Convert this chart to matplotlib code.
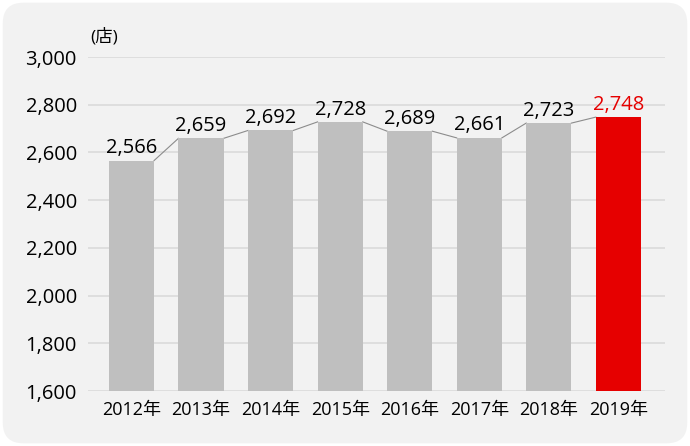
import matplotlib.pyplot as plt
from matplotlib.patches import FancyBboxPatch
import numpy as np

plt.rcParams['font.family'] = ['Open Sans', 'Noto Sans CJK JP', 'DejaVu Sans']

years = ['2012年', '2013年', '2014年', '2015年', '2016年', '2017年', '2018年', '2019年']
stores = [2566, 2659, 2692, 2728, 2689, 2661, 2723, 2748]
yticks = [1600, 1800, 2000, 2200, 2400, 2600, 2800, 3000]

bar_w = 0.65
gray = '#bfbfbf'
red = '#e60000'

fig = plt.figure(figsize=(6.9, 4.46), dpi=100)
fig.patch.set_facecolor('white')

# rounded panel behind everything
panel = FancyBboxPatch((0.004, 0.006), 0.992, 0.988,
                       boxstyle='round,pad=0,rounding_size=0.03',
                       transform=fig.transFigure, facecolor='#f2f2f2',
                       edgecolor='none', zorder=-10, mutation_aspect=690/446)
fig.patches.append(panel)

ax = fig.add_axes([88/690, 1 - 391/446, (665-88)/690, (391-57)/446])
ax.set_facecolor('none')

x = np.arange(len(years))
colors = [gray] * (len(years) - 1) + [red]
ax.bar(x, [v - 1600 for v in stores], bottom=1600, width=bar_w, color=colors, zorder=3)

# thin connectors from bar top to next bar top
for i in range(len(stores) - 1):
    ax.plot([x[i] + bar_w/2, x[i+1] - bar_w/2], [stores[i], stores[i+1]],
            color='#8c8c8c', lw=0.8, zorder=2)

for i, v in enumerate(stores):
    c = red if i == len(stores) - 1 else 'black'
    ax.text(x[i], v + 10, f'{v:,}', ha='center', va='bottom', fontsize=14.5, color=c, zorder=4)

ax.set_ylim(1600, 3000)
ax.set_xlim(-0.625, 7.67)
ax.set_yticks(yticks)
ax.set_yticklabels([f'{t:,}' for t in yticks], fontsize=14.5)
ax.set_xticks(x)
ax.set_xticklabels(years, fontsize=13)
ax.tick_params(axis='both', length=0, colors='black')
ax.tick_params(axis='y', pad=8)
ax.tick_params(axis='x', pad=7)
for s in ax.spines.values():
    s.set_visible(False)
ax.grid(axis='y', color='#dcdcdc', lw=1.3, zorder=1)
ax.set_axisbelow(True)

fig.text(90/690, 1 - 37/446, '(店)', fontsize=12.5, ha='left', va='center')

fig.savefig('out.png', dpi=100, facecolor='white')
